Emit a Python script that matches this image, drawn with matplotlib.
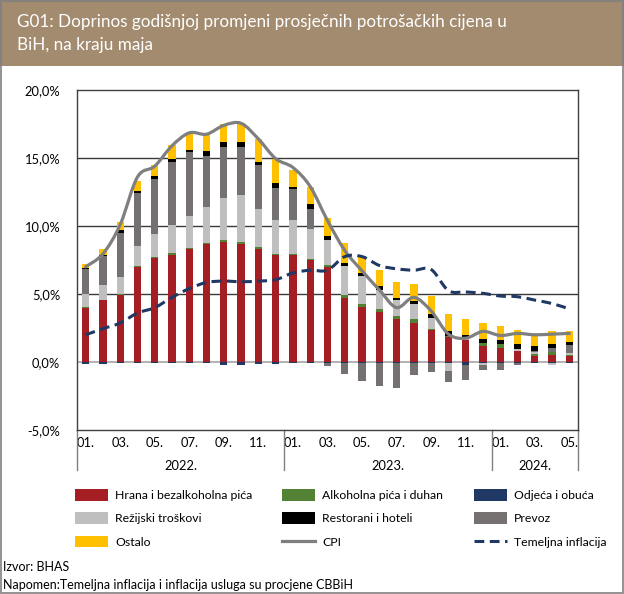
import numpy as np
import matplotlib
matplotlib.use("Agg")
import matplotlib.pyplot as plt
from matplotlib.path import Path
from matplotlib.patches import PathPatch, Rectangle
import matplotlib.transforms as mtransforms

plt.rcParams['font.family'] = ['Lato', 'DejaVu Sans']

# data, monthly Jan 2022 - May 2024 (contributions, percentage points)
months = ['01.', '02.', '03.', '04.', '05.', '06.', '07.', '08.', '09.', '10.', '11.', '12.'] * 2 + ['01.', '02.', '03.', '04.', '05.']
years = ['2022.', '2023.', '2024.']

hrana = [4.0, 4.55, 4.95, 7.0, 7.68, 7.9, 8.33, 8.7, 8.85, 8.7, 8.3, 7.87, 7.87, 7.5, 6.95,
         4.7, 4.04, 3.68, 3.14, 2.87, 2.33, 1.84, 1.6, 1.18, 1.03, 0.78, 0.42, 0.49, 0.42]
alkohol = [0.04, 0.03, 0.08, 0.05, 0.05, 0.1, 0.05, 0.05, 0.1, 0.1, 0.12, 0.1, 0.1, 0.1, 0.2,
           0.25, 0.25, 0.24, 0.24, 0.27, 0.12, 0.08, 0.05, 0.24, 0.27, 0.05, 0.19, 0.24, 0.12]
odjeca = [-0.15, -0.15, -0.1, -0.1, -0.1, -0.1, -0.1, -0.1, -0.2, -0.2, -0.15, -0.15, -0.1, -0.1, -0.05,
          -0.06, -0.05, -0.05, -0.05, -0.05, -0.05, -0.05, -0.25, -0.1, -0.1, -0.05, -0.1, -0.05, -0.08]
rezijski = [0.94, 1.06, 1.2, 1.48, 1.68, 2.11, 2.33, 2.62, 3.08, 3.45, 2.81, 2.5, 2.5, 2.2, 1.85,
            2.1, 2.0, 1.4, 1.15, 1.1, 0.81, -0.6, 0.1, -0.1, 0.0, 0.12, 0.12, -0.2, 0.12]
restorani = [0.07, 0.1, 0.24, 0.15, 0.22, 0.2, 0.18, 0.38, 0.35, 0.35, 0.23, 0.36, 0.2, 0.35, 0.24,
             0.24, 0.24, 0.29, 0.15, 0.22, 0.24, 0.33, 0.21, 0.3, 0.3, 0.35, 0.32, 0.25, 0.25]
prevoz = [1.88, 2.16, 3.26, 3.92, 4.02, 4.58, 4.71, 3.75, 3.77, 3.55, 3.27, 2.33, 2.23, 1.45, -0.25,
          -0.8, -1.35, -1.71, -1.86, -0.93, -0.69, -0.8, -1.1, -0.4, -0.5, -0.2, 0.1, 0.32, 0.56]
ostalo = [0.27, 0.43, 0.6, 0.7, 0.81, 1.1, 1.14, 1.17, 1.33, 1.45, 1.67, 1.79, 1.24, 1.27, 1.32,
          1.45, 1.3, 1.18, 1.2, 1.3, 1.33, 1.25, 1.18, 1.18, 1.02, 1.08, 0.79, 0.95, 0.78]
cpi = [7.0, 7.95, 10.1, 13.6, 14.4, 15.9, 16.85, 16.75, 17.4, 17.55, 16.4, 14.95, 14.3, 12.9, 10.4,
       8.2, 6.7, 5.3, 4.0, 4.75, 3.75, 2.05, 1.75, 2.25, 1.95, 2.1, 2.0, 2.05, 2.1]
temeljna = [2.0, 2.45, 2.87, 3.6, 4.0, 4.75, 5.4, 5.85, 5.95, 5.9, 5.95, 6.05, 6.55, 6.75, 6.75,
            7.75, 7.75, 7.1, 6.85, 6.75, 6.8, 5.25, 5.15, 5.05, 4.85, 4.8, 4.55, 4.3, 3.9]

series = [
    ('Hrana i bezalkoholna pića', hrana, '#A51E23'),
    ('Alkoholna pića i duhan', alkohol, '#548235'),
    ('Odjeća i obuća', odjeca, '#1F3864'),
    ('Režijski troškovi', rezijski, '#BFBFBF'),
    ('Prevoz', prevoz, '#767171'),
    ('Restorani i hoteli', restorani, '#000000'),
    ('Ostalo', ostalo, '#FFC000'),
]


def smooth_path(xs, ys):
    # excel-like smoothed line (catmull-rom as bezier)
    pts = np.column_stack([xs, ys]).astype(float)
    verts = [pts[0]]
    codes = [Path.MOVETO]
    n = len(pts)
    for i in range(n - 1):
        p0 = pts[i - 1] if i > 0 else pts[i]
        p1 = pts[i]
        p2 = pts[i + 1]
        p3 = pts[i + 2] if i + 2 < n else pts[i + 1]
        verts += [p1 + (p2 - p0) / 6, p2 - (p3 - p1) / 6, p2]
        codes += [Path.CURVE4] * 3
    return Path(verts, codes)


fig = plt.figure(figsize=(6.24, 5.94), dpi=100)

# title banner
fig.patches.append(Rectangle((0, 1 - 66 / 594), 1, 66 / 594, transform=fig.transFigure,
                             facecolor='#A38B6F', edgecolor='none', zorder=0))
fig.patches.append(Rectangle((0.001, 0.001), 0.997, 0.998, transform=fig.transFigure,
                             facecolor='none', edgecolor='#808080', lw=1.2, zorder=5))
fig.text(17 / 624, 1 - 22 / 594, 'G01: Doprinos godišnjoj promjeni prosječnih potrošačkih cijena u',
         color='white', fontsize=12.3, va='center', ha='left')
fig.text(17 / 624, 1 - 45 / 594, 'BiH, na kraju maja', color='white', fontsize=12.3, va='center', ha='left')

ax = fig.add_axes([77 / 624, 1 - 430 / 594, 501 / 624, 340 / 594])
x = np.arange(len(hrana))
pos_base = np.zeros(len(x))
neg_base = np.zeros(len(x))
for name, vals, col in series:
    v = np.array(vals)
    p = np.where(v > 0, v, 0)
    n = np.where(v < 0, v, 0)
    ax.bar(x, p, 0.42, bottom=pos_base, color=col, zorder=3, label=name)
    ax.bar(x, n, 0.42, bottom=neg_base, color=col, zorder=3)
    pos_base += p
    neg_base += n

ax.add_patch(PathPatch(smooth_path(x, cpi), facecolor='none', edgecolor='#7F7F7F', lw=2.3,
                       zorder=4, capstyle='round'))
ax.add_patch(PathPatch(smooth_path(x, temeljna), facecolor='none', edgecolor='#1F3864', lw=2.2,
                       linestyle=(0, (3.2, 1.8)), zorder=4))

ax.set_xlim(-0.5, len(x) - 0.5)
ax.set_ylim(-5, 20)
ax.set_yticks([-5, 0, 5, 10, 15, 20])
ax.set_yticklabels(['-5,0%', '0,0%', '5,0%', '10,0%', '15,0%', '20,0%'], fontsize=9.3)
for yv in [5, 10, 15]:
    ax.axhline(yv, color='#3A3A3A', lw=1.0, zorder=1)
ax.axhline(0, color='#A6A6A6', lw=1.2, zorder=2)
for s in ax.spines.values():
    s.set_color('#404040')
    s.set_linewidth(1.0)
ax.tick_params(axis='y', length=0, pad=12)

ax.set_xticks(x[::2])
ax.set_xticklabels(months[::2], fontsize=9.3)
ax.tick_params(axis='x', length=0, pad=5)

trans = mtransforms.blended_transform_factory(ax.transData, ax.transAxes)
for xb in [-0.5, 11.5, 23.5, 28.5]:
    ax.plot([xb, xb], [0, -40 / 340], color='#808080', lw=1.0, transform=trans, clip_on=False)
for yl, xc in zip(years, [5.5, 17.5, 26]):
    ax.text(xc, -36 / 340, yl, transform=trans, ha='center', va='center', fontsize=9.3)

# legend, three columns placed separately
h, l = ax.get_legend_handles_labels()
cpi_h = plt.Line2D([], [], color='#7F7F7F', lw=2.3)
core_h = plt.Line2D([], [], color='#1F3864', lw=2.2, linestyle=(0, (3.2, 1.8)))
cols = [
    ([h[0], h[3], h[6]], [l[0], l[3], l[6]], 75),
    ([h[1], h[5], cpi_h], [l[1], l[5], 'CPI'], 282),
    ([h[2], h[4], core_h], [l[2], l[4], 'Temeljna inflacija'], 474),
]
for hh, ll, xpos in cols:
    leg = fig.legend(hh, ll, loc='upper left', bbox_to_anchor=(xpos / 624, 1 - 489 / 594),
                     borderaxespad=0, borderpad=0, frameon=False, fontsize=8.8,
                     handlelength=2.7, handleheight=1.1, labelspacing=0.92, handletextpad=0.6)

fig.text(3 / 624, 1 - 567 / 594, 'Izvor: BHAS', fontsize=9, va='center')
fig.text(3 / 624, 1 - 585 / 594, 'Napomen:Temeljna inflacija i inflacija usluga su procjene CBBiH',
         fontsize=9, va='center')

fig.savefig('out.png', dpi=100)
